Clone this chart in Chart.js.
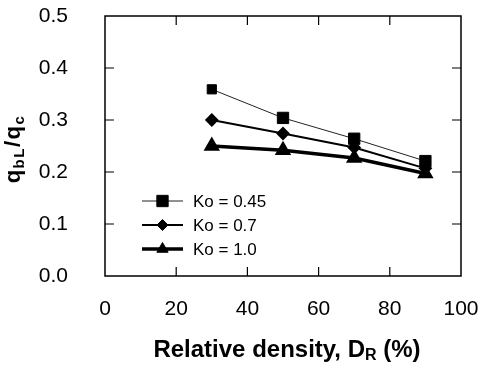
<!DOCTYPE html>
<html>
<head>
<meta charset="utf-8">
<script src="https://cdn.jsdelivr.net/npm/chart.js@4.4.1/dist/chart.umd.min.js"></script>
<style>
  body { margin: 0; background: #fff; }
  canvas { display: block; }
</style>
</head>
<body>
<canvas id="chart" width="483" height="366"></canvas>
<script>
// data
const densities = [30, 50, 70, 90];
const ko045 = [0.359, 0.304, 0.264, 0.221];
const ko07 = [0.300, 0.274, 0.247, 0.207];
const ko10 = [0.250, 0.242, 0.227, 0.197];
const seriesLabels = ['Ko = 0.45', 'Ko = 0.7', 'Ko = 1.0'];
const xTicks = [0, 20, 40, 60, 80, 100];
const yTicks = [0.0, 0.1, 0.2, 0.3, 0.4, 0.5];

const FONT = '"Liberation Sans", Arial, Helvetica, sans-serif';

function toPoints(values) {
    return densities.map((d, i) => ({ x: d, y: values[i] }));
}

// draw a run of text pieces (for subscripts) centred on cx
function drawRichText(ctx, pieces, cx, baseY, spacing) {
    let total = 0;
    pieces.forEach(p => {
        ctx.font = p.font;
        p.w = ctx.measureText(p.text).width + spacing * p.text.length;
        total += p.w;
    });
    let x = cx - total / 2;
    ctx.textAlign = 'left';
    ctx.textBaseline = 'alphabetic';
    pieces.forEach(p => {
        ctx.font = p.font;
        if (spacing) {
            for (const ch of p.text) {
                ctx.fillText(ch, x, baseY + (p.dy || 0));
                x += ctx.measureText(ch).width + spacing;
            }
        } else {
            ctx.fillText(p.text, x, baseY + (p.dy || 0));
            x += p.w;
        }
    });
}

const framePlugin = {
    id: 'frame',
    beforeDatasetsDraw(chart) {
        const ctx = chart.ctx;
        const a = chart.chartArea;
        const xs = chart.scales.x;
        const ys = chart.scales.y;
        const tick = 9;
        ctx.save();
        ctx.strokeStyle = '#000';
        ctx.lineWidth = 1.5;
        ctx.strokeRect(a.left, a.top, a.right - a.left, a.bottom - a.top);
        ctx.lineWidth = 1.2;
        ctx.beginPath();
        xTicks.slice(1, -1).forEach(v => {
            const px = xs.getPixelForValue(v);
            ctx.moveTo(px, a.bottom); ctx.lineTo(px, a.bottom - tick);
            ctx.moveTo(px, a.top); ctx.lineTo(px, a.top + tick);
        });
        yTicks.slice(1, -1).forEach(v => {
            const py = ys.getPixelForValue(v);
            ctx.moveTo(a.left, py); ctx.lineTo(a.left + tick, py);
            ctx.moveTo(a.right, py); ctx.lineTo(a.right - tick, py);
        });
        ctx.stroke();
        ctx.restore();
    },
    afterDraw(chart) {
        const ctx = chart.ctx;
        const a = chart.chartArea;
        ctx.save();
        ctx.fillStyle = '#000';

        // legend inside the plot
        const legendX0 = a.left + 37;
        const legendX1 = a.left + 78;
        const legendTextX = a.left + 88;
        const legendY = a.top + 185;
        const legendStep = 24;
        const legendRadius = [8, 5.5, 6.5];
        chart.data.datasets.forEach((ds, i) => {
            const y = legendY + i * legendStep;
            ctx.strokeStyle = ds.borderColor;
            ctx.lineWidth = ds.borderWidth;
            ctx.beginPath();
            ctx.moveTo(legendX0, y);
            ctx.lineTo(legendX1, y);
            ctx.stroke();
            ctx.fillStyle = '#000';
            ctx.strokeStyle = '#000';
            ctx.lineWidth = 1;
            Chart.helpers.drawPoint(ctx, {
                pointStyle: ds.pointStyle,
                radius: legendRadius[i],
                rotation: 0,
                borderWidth: 1
            }, (legendX0 + legendX1) / 2, y);
            ctx.font = '17px ' + FONT;
            ctx.textAlign = 'left';
            ctx.textBaseline = 'middle';
            ctx.fillText(ds.label, legendTextX, y + 1);
        });

        // x axis title
        ctx.fillStyle = '#000';
        drawRichText(ctx, [
            { text: 'Relative density, D', font: 'bold 24px ' + FONT },
            { text: 'R', font: 'bold 16px ' + FONT, dy: 3 },
            { text: ' (%)', font: 'bold 24px ' + FONT }
        ], (a.left + a.right) / 2 + 4, 357, 0);

        // y axis title, rotated
        ctx.translate(20, (a.top + a.bottom) / 2 + 3);
        ctx.rotate(-Math.PI / 2);
        drawRichText(ctx, [
            { text: 'q', font: 'bold 22px ' + FONT },
            { text: 'bL', font: 'bold 15px ' + FONT, dy: 4 },
            { text: '/q', font: 'bold 22px ' + FONT },
            { text: 'c', font: 'bold 15px ' + FONT, dy: 4 }
        ], 0, 0, 1.5);
        ctx.restore();
    }
};

new Chart(document.getElementById('chart'), {
    type: 'line',
    data: {
        datasets: [
            {
                label: seriesLabels[0],
                data: toPoints(ko045),
                borderColor: '#222',
                borderWidth: 1,
                pointStyle: 'rect',
                pointRadius: [6.5, 8, 8, 8],
                pointBackgroundColor: '#000',
                pointBorderColor: '#000'
            },
            {
                label: seriesLabels[1],
                data: toPoints(ko07),
                borderColor: '#000',
                borderWidth: 2,
                pointStyle: 'rectRot',
                pointRadius: 5.5,
                pointBackgroundColor: '#000',
                pointBorderColor: '#000'
            },
            {
                label: seriesLabels[2],
                data: toPoints(ko10),
                borderColor: '#000',
                borderWidth: 3.5,
                pointStyle: 'triangle',
                pointRadius: 6,
                pointBackgroundColor: '#000',
                pointBorderColor: '#000'
            }
        ]
    },
    options: {
        responsive: false,
        animation: false,
        layout: { padding: { top: 16, right: 22, left: 0, bottom: 0 } },
        plugins: {
            legend: { display: false },
            tooltip: { enabled: false }
        },
        elements: { line: { tension: 0, fill: false } },
        scales: {
            x: {
                type: 'linear',
                min: 0,
                max: 100,
                afterBuildTicks: s => { s.ticks = xTicks.map(v => ({ value: v })); },
                afterFit: s => {
                    s.height = 90;
                    s.paddingLeft = 0;
                    s.paddingRight = 0;
                },
                grid: { display: false },
                border: { display: false },
                ticks: {
                    color: '#000',
                    padding: 13,
                    maxRotation: 0,
                    font: { family: FONT, size: 21 },
                    callback: v => String(v)
                }
            },
            y: {
                min: 0,
                max: 0.5,
                afterBuildTicks: s => { s.ticks = yTicks.map(v => ({ value: v })); },
                afterFit: s => {
                    s.width = 105;
                    s.paddingTop = 0;
                    s.paddingBottom = 0;
                },
                grid: { display: false },
                border: { display: false },
                ticks: {
                    color: '#000',
                    padding: 29,
                    font: { family: FONT, size: 21 },
                    callback: v => v.toFixed(1)
                }
            }
        }
    },
    plugins: [framePlugin]
});
</script>
</body>
</html>
